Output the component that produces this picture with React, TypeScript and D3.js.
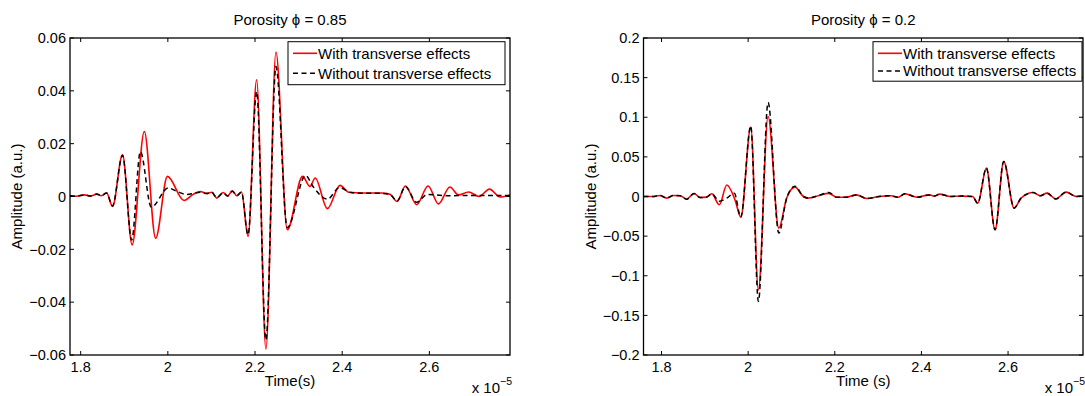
import React from 'react';
import * as d3 from 'd3';

type Pt = [number, number];

// tick values (time in units of 1e-5 s)
const xTicks = [1.8, 2, 2.2, 2.4, 2.6];
const leftYTicks = [-0.06, -0.04, -0.02, 0, 0.02, 0.04, 0.06];
const rightYTicks = [-0.2, -0.15, -0.1, -0.05, 0, 0.05, 0.1, 0.15, 0.2];

// porosity 0.85, with transverse effects (red)
const leftWith: Pt[] = [
  [1.7755, 0.0003], [1.79, 0.0001], [1.809, 0.0006], [1.823, 0.0002], [1.837, 0.0009],
  [1.847, 0.0003], [1.8596, 0.0013], [1.873, -0.0038], [1.896, 0.0158], [1.918, -0.0183],
  [1.946, 0.0246], [1.972, -0.0158], [1.999, 0.0076], [2.037, -0.0015], [2.058, 0.0008],
  [2.074, 0.0019], [2.09, 0.0012], [2.101, 0.0016], [2.112, -0.0006], [2.127, 0.0015],
  [2.137, 0.0002], [2.148, 0.0022], [2.158, 0.0003], [2.169, 0.0017], [2.184, -0.0151],
  [2.2037, 0.0442], [2.225, -0.0578], [2.248, 0.0547], [2.274, -0.0126], [2.309, 0.0076],
  [2.326, 0.0038], [2.338, 0.007], [2.366, -0.0046], [2.395, 0.0042], [2.415, 0.0016],
  [2.45, 0.0013], [2.49, 0.0013], [2.51, 0.0008], [2.526, -0.0019], [2.545, 0.004],
  [2.571, -0.0031], [2.597, 0.004], [2.621, -0.0028], [2.647, 0.0036], [2.667, 0.0006],
  [2.69, 0.0017], [2.714, 0.0], [2.738, 0.0028], [2.762, -0.0002], [2.785, 0.0005],
];

// porosity 0.85, without transverse effects (black dashed)
const leftWithout: Pt[] = [
  [1.7755, 0.0003], [1.79, 0.0001], [1.809, 0.0006], [1.823, 0.0002], [1.837, 0.0009],
  [1.847, 0.0003], [1.8596, 0.0013], [1.873, -0.0036], [1.896, 0.0156], [1.917, -0.0165],
  [1.937, 0.017], [1.962, -0.004], [2.001, 0.0032], [2.02, 0.002], [2.043, 0.0008],
  [2.06, 0.0012], [2.074, 0.0016], [2.09, 0.0011], [2.101, 0.0015], [2.112, -0.0004],
  [2.127, 0.0014], [2.137, 0.0002], [2.148, 0.002], [2.158, 0.0003], [2.169, 0.0016],
  [2.184, -0.0145], [2.2037, 0.0397], [2.225, -0.0543], [2.248, 0.0492], [2.274, -0.0118],
  [2.316, 0.008], [2.333, 0.0038], [2.366, -0.001], [2.394, 0.0034], [2.42, 0.0015],
  [2.45, 0.0012], [2.49, 0.0012], [2.51, 0.0007], [2.526, -0.0017], [2.545, 0.0037],
  [2.571, -0.0022], [2.595, 0.0008], [2.64, 0.0003], [2.7, 0.0004], [2.785, 0.0004],
];

// porosity 0.2, with transverse effects (red)
const rightWith: Pt[] = [
  [1.7584, 0.0], [1.78, 0.0], [1.7965, 0.0013], [1.812, -0.002], [1.827, 0.0013],
  [1.843, 0.0009], [1.858, -0.0034], [1.875, 0.0038], [1.889, -0.0013], [1.904, -0.0008],
  [1.916, 0.0034], [1.9335, -0.0105], [1.9506, 0.0145], [1.9697, -0.0042], [1.983, -0.026],
  [2.006, 0.0875], [2.0236, -0.1178], [2.046, 0.101], [2.0707, -0.0399], [2.089, -0.002],
  [2.108, 0.0118], [2.1275, 0.0], [2.138, -0.002], [2.162, 0.001], [2.186, 0.004],
  [2.205, -0.001], [2.226, -0.001], [2.25, 0.002], [2.274, -0.0025], [2.302, 0.0],
  [2.33, 0.0009], [2.345, -0.001], [2.362, 0.0034], [2.39, -0.001], [2.418, 0.002],
  [2.43, 0.0005], [2.442, 0.003], [2.466, 0.0], [2.494, 0.0005], [2.518, 0.0],
  [2.53, -0.0084], [2.55, 0.0358], [2.57, -0.042], [2.59, 0.0442], [2.614, -0.0147],
  [2.63, -0.002], [2.658, 0.005], [2.674, 0.0009], [2.69, 0.0042], [2.71, -0.003],
  [2.734, 0.0055], [2.758, 0.0], [2.773, 0.0008],
];

// porosity 0.2, without transverse effects (black dashed)
const rightWithout: Pt[] = [
  [1.7584, 0.0], [1.78, 0.0], [1.7965, 0.0013], [1.812, -0.002], [1.827, 0.0013],
  [1.843, 0.0009], [1.858, -0.0034], [1.875, 0.0038], [1.889, -0.0013], [1.904, -0.0008],
  [1.916, 0.0034], [1.9335, -0.006], [1.9506, -0.002], [1.968, 0.004], [1.983, -0.026],
  [2.006, 0.089], [2.0236, -0.1325], [2.046, 0.1187], [2.0707, -0.046], [2.089, -0.002],
  [2.108, 0.013], [2.1275, 0.0], [2.138, -0.002], [2.162, 0.001], [2.186, 0.005],
  [2.205, -0.001], [2.226, -0.001], [2.25, 0.002], [2.274, -0.0025], [2.302, 0.0],
  [2.33, 0.0009], [2.345, -0.001], [2.362, 0.0034], [2.39, -0.001], [2.418, 0.002],
  [2.43, 0.0005], [2.442, 0.003], [2.466, 0.0], [2.494, 0.0005], [2.518, 0.0],
  [2.53, -0.0084], [2.55, 0.0358], [2.57, -0.042], [2.59, 0.0442], [2.614, -0.0147],
  [2.63, -0.002], [2.658, 0.005], [2.674, 0.0009], [2.69, 0.0042], [2.71, -0.003],
  [2.734, 0.0055], [2.758, 0.0], [2.773, 0.0008],
];

const FONT = '"Liberation Sans", Arial, Helvetica, sans-serif';
const TOP = 38;
const BOTTOM = 355;
const TICK = 4;

const fmt = (v: number) => (v === 0 ? '0' : (v < 0 ? '\u2212' : '') + String(Math.abs(v)));

type PanelProps = {
  id: string;
  x0: number;
  x1: number;
  xDomain: [number, number];
  yDomain: [number, number];
  yTicks: number[];
  withData: Pt[];
  withoutData: Pt[];
  title: string;
  xLabel: string;
  yLabelX: number;
  legend: { x: number; w: number; h: number; row1: number; row2: number };
};

const Panel = ({ id, x0, x1, xDomain, yDomain, yTicks, withData, withoutData, title, xLabel, yLabelX, legend }: PanelProps) => {
  const x = d3.scaleLinear().domain(xDomain).range([x0, x1]);
  const y = d3.scaleLinear().domain(yDomain).range([BOTTOM, TOP]);
  const line = d3.line<Pt>().x(d => x(d[0])).y(d => y(d[1])).curve(d3.curveMonotoneX);
  const cx = (x0 + x1) / 2;

  return (
    <g fontFamily={FONT} fill="#000">
      <clipPath id={id}>
        <rect x={x0} y={TOP} width={x1 - x0} height={BOTTOM - TOP} />
      </clipPath>
      <rect x={x0} y={TOP} width={x1 - x0} height={BOTTOM - TOP} fill="#fff" />

      <g clipPath={`url(#${id})`}>
        <path d={line(withData) || ''} fill="none" stroke="#ff0000" strokeWidth={1.6} />
        <path d={line(withoutData) || ''} fill="none" stroke="#000" strokeWidth={1.5} strokeDasharray="5,3.5" />
      </g>

      {/* x ticks, bottom and top, inward */}
      {xTicks.map(t => (
        <g key={'x' + t}>
          <line x1={x(t)} x2={x(t)} y1={BOTTOM} y2={BOTTOM - TICK} stroke="#000" strokeWidth={1} />
          <line x1={x(t)} x2={x(t)} y1={TOP} y2={TOP + TICK} stroke="#000" strokeWidth={1} />
          <text x={x(t)} y={BOTTOM + 17} textAnchor="middle" fontSize={14.5}>{fmt(t)}</text>
        </g>
      ))}

      {/* y ticks, left and right, inward */}
      {yTicks.map(v => (
        <g key={'y' + v}>
          <line x1={x0} x2={x0 + TICK} y1={y(v)} y2={y(v)} stroke="#000" strokeWidth={1} />
          <line x1={x1} x2={x1 - TICK} y1={y(v)} y2={y(v)} stroke="#000" strokeWidth={1} />
          <text x={x0 - 4} y={y(v)} dy="0.36em" textAnchor="end" fontSize={14.5}>{fmt(v)}</text>
        </g>
      ))}

      <rect x={x0} y={TOP} width={x1 - x0} height={BOTTOM - TOP} fill="none" stroke="#000" strokeWidth={1.3} />

      <text x={cx} y={25} textAnchor="middle" fontSize={15}>{title}</text>
      <text x={cx} y={386} textAnchor="middle" fontSize={15}>{xLabel}</text>
      <text transform={`translate(${yLabelX},${(TOP + BOTTOM) / 2}) rotate(-90)`} textAnchor="middle" fontSize={15}>
        Amplitude (a.u.)
      </text>
      <text x={x1 + 2} y={393} textAnchor="end" fontSize={15}>
        x 10<tspan dy={-8} fontSize={10.5}>{'\u22125'}</tspan>
      </text>

      {/* legend */}
      <rect x={legend.x} y={41.7} width={legend.w} height={legend.h} fill="#fff" stroke="#000" strokeWidth={1} />
      <line x1={legend.x + 5} x2={legend.x + 29} y1={legend.row1} y2={legend.row1} stroke="#ff0000" strokeWidth={1.6} />
      <line x1={legend.x + 5} x2={legend.x + 29} y1={legend.row2} y2={legend.row2} stroke="#000" strokeWidth={1.5} strokeDasharray="5,3.5" />
      <text x={legend.x + 30} y={legend.row1} dy="0.36em" fontSize={15}>With transverse effects</text>
      <text x={legend.x + 30} y={legend.row2} dy="0.36em" fontSize={15}>Without transverse effects</text>
    </g>
  );
};

export default function App() {
  return (
    <svg width={1085} height={396} style={{ position: 'absolute', left: 0, top: 0, background: '#fff' }}>
      <rect width={1085} height={396} fill="#fff" />
      <Panel
        id="clipL"
        x0={70}
        x1={510}
        xDomain={[1.7755, 2.785]}
        yDomain={[-0.06, 0.06]}
        yTicks={leftYTicks}
        withData={leftWith}
        withoutData={leftWithout}
        title={'Porosity \u03d5 = 0.85'}
        xLabel="Time(s)"
        yLabelX={22}
        legend={{ x: 288, w: 217, h: 43, row1: 53.3, row2: 73.3 }}
      />
      <Panel
        id="clipR"
        x0={643.5}
        x1={1083}
        xDomain={[1.7584, 2.773]}
        yDomain={[-0.2, 0.2]}
        yTicks={rightYTicks}
        withData={rightWith}
        withoutData={rightWithout}
        title={'Porosity \u03d5 = 0.2'}
        xLabel="Time (s)"
        yLabelX={596}
        legend={{ x: 873, w: 209, h: 39.5, row1: 53.3, row2: 71 }}
      />
    </svg>
  );
}
